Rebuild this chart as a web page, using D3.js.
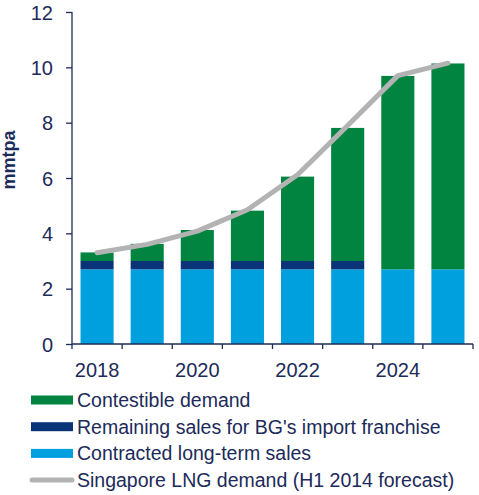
<!DOCTYPE html>
<html><head><meta charset="utf-8">
<script src="https://cdn.jsdelivr.net/npm/d3@7"></script>
<style>body{margin:0;background:#fff;} text{font-family:"Liberation Sans",Arial,sans-serif;}</style>
</head><body><svg id="c" width="479" height="495"></svg>
<script>
const years = ["2018","2019","2020","2021","2022","2023","2024","2025"];
const contracted = [2.7,2.7,2.7,2.7,2.7,2.7,2.7,2.7];
const remaining = [0.3,0.3,0.3,0.3,0.3,0.3,0,0];
const contestible = [0.31,0.62,1.12,1.82,3.05,4.81,6.99,7.44];
const demand = [3.3,3.6,4.08,4.85,6.12,7.9,9.7,10.15];
const yTicks = [0,2,4,6,8,10,12];
const xLabels = ["2018","2020","2022","2024"];
const legendLabels = ["Contestible demand","Remaining sales for BG's import franchise","Contracted long-term sales","Singapore LNG demand (H1 2014 forecast)"];

const C = {green:"#00843f", navy:"#0b3377", blue:"#00a0df", gray:"#b3b3b3", text:"#1c2b5a", axis:"#1c2b5a"};
const svg = d3.select("#c");
const x = d3.scaleBand().domain(years).range([72,473]).paddingInner(0.34).paddingOuter(0.17);
const y = d3.scaleLinear().domain([0,12]).range([344,12]);

const rows = years.map((yr,i)=>({year:yr, contracted:contracted[i], remaining:remaining[i], contestible:contestible[i]}));
const keys = ["contracted","remaining","contestible"];
const colors = {contracted:C.blue, remaining:C.navy, contestible:C.green};
const stack = d3.stack().keys(keys)(rows);
svg.append("g").selectAll("g").data(stack).join("g").attr("fill",d=>colors[d.key])
  .selectAll("rect").data(d=>d).join("rect")
  .attr("x",d=>x(d.data.year)).attr("width",x.bandwidth())
  .attr("y",d=>y(d[1])).attr("height",d=>y(d[0])-y(d[1]));

const line = d3.line().x((d,i)=>x(years[i])+x.bandwidth()/2).y(d=>y(d)).curve(d3.curveLinear);
svg.append("path").datum(demand).attr("d",line).attr("fill","none")
  .attr("stroke",C.gray).attr("stroke-width",5).attr("stroke-linecap","round").attr("stroke-linejoin","round");

// y axis
const ya = svg.append("g").attr("transform","translate(72,0)")
  .call(d3.axisLeft(y).tickValues(yTicks).tickSize(6).tickPadding(13));
ya.select(".domain").attr("stroke",C.axis).attr("stroke-width",1.3).attr("d","M-0,12V344");
ya.selectAll(".tick line").attr("stroke",C.axis).attr("stroke-width",1.3);
ya.selectAll(".tick text").attr("fill",C.text).style("font-size","20px").attr("dy","0.36em");

// x axis: ticks at band boundaries
const bounds = years.map(yr=>x(yr)-x.step()*x.paddingInner()/2).concat([473]);
const xa = svg.append("g");
xa.append("line").attr("x1",72).attr("x2",473).attr("y1",344).attr("y2",344).attr("stroke",C.axis).attr("stroke-width",1.3);
xa.selectAll(".tk").data(bounds).join("line").attr("class","tk")
  .attr("x1",d=>d).attr("x2",d=>d).attr("y1",344).attr("y2",349).attr("stroke",C.axis).attr("stroke-width",1.3);
xa.selectAll("text").data(xLabels).join("text")
  .attr("x",d=>x(d)+x.bandwidth()/2).attr("y",377).attr("text-anchor","middle")
  .attr("fill",C.text).style("font-size","20px").text(d=>d);

svg.append("text").attr("transform","translate(15,160) rotate(-90)").attr("text-anchor","middle")
  .attr("fill",C.text).style("font-size","18px").style("font-weight","bold").text("mmtpa");

// legend
const lg = svg.append("g");
const lcol = [C.green,C.navy,C.blue,C.gray];
legendLabels.forEach((t,i)=>{
  const yy = 400 + i*26.7;
  if(i<3) lg.append("rect").attr("x",31).attr("y",yy-4.5).attr("width",42).attr("height",9).attr("fill",lcol[i]);
  else lg.append("line").attr("x1",32).attr("x2",72).attr("y1",yy).attr("y2",yy).attr("stroke",lcol[i]).attr("stroke-width",5).attr("stroke-linecap","round");
  lg.append("text").attr("x",77).attr("y",yy).attr("dy","0.35em").attr("fill",C.text).style("font-size","19.5px").text(t);
});
</script></body></html>
